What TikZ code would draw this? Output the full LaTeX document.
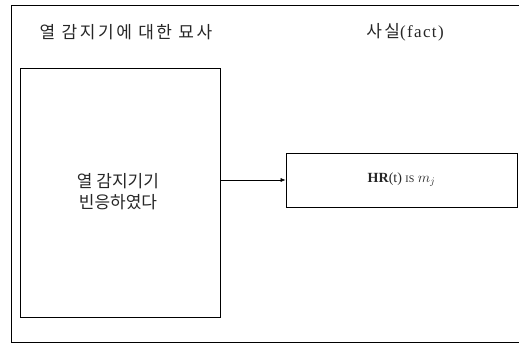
\documentclass[tikz,border=0pt]{standalone}
\usepackage{fontspec}
\setmainfont{Liberation Serif}
\newfontfamily\kor{Noto Sans CJK KR}
\newfontfamily\korwide{Noto Sans CJK KR}[LetterSpace=15]
\newfontfamily\serifwide{Liberation Serif}[LetterSpace=8]
\usetikzlibrary{arrows.meta}
\tikzset{
  frame/.style={draw=black, line width=0.7pt},
  boxnode/.style={draw=black, line width=0.7pt, inner sep=0pt},
  kortext/.style={font=\kor\fontsize{17}{21}\selectfont, align=center, text=black!85},
  kortitle/.style={font=\korwide\fontsize{17}{21}\selectfont, align=center, text=black!85},
  conn/.style={draw=black, line width=0.6pt, -{Latex[length=5pt,width=4pt]}}
}
\begin{document}
\begin{tikzpicture}[x=1pt,y=1pt]
\useasboundingbox (0,0) rectangle (519,344);
\coordinate (o1) at (519,339);
\coordinate (o2) at (11,339);
\coordinate (o3) at (11,2);
\coordinate (o4) at (519,2);
\draw[frame] (o1) -- (o2) -- (o3) -- (o4);
\node[kortitle] (title1) at (126,311.5) {열 감지기에 대한 묘사};
\node[kortitle] (title2) at (405,311.5) {사실{\serifwide(fact)}};
\node[boxnode, minimum width=200pt, minimum height=249pt] (left) at (120,151.5) {};
\node[kortext] (lefttext) at (118,152) {열 감지기기\\빈응하였다};
\node[boxnode, minimum width=231pt, minimum height=54pt, font=\fontsize{14}{16}\selectfont, text=black!85] (right) at (401.5,164) {\textbf{HR}(t) {\fontsize{10}{12}\selectfont IS} $m_j$};
\draw[conn] (left.east |- 0,164) -- (right.west);
\end{tikzpicture}
\end{document}
